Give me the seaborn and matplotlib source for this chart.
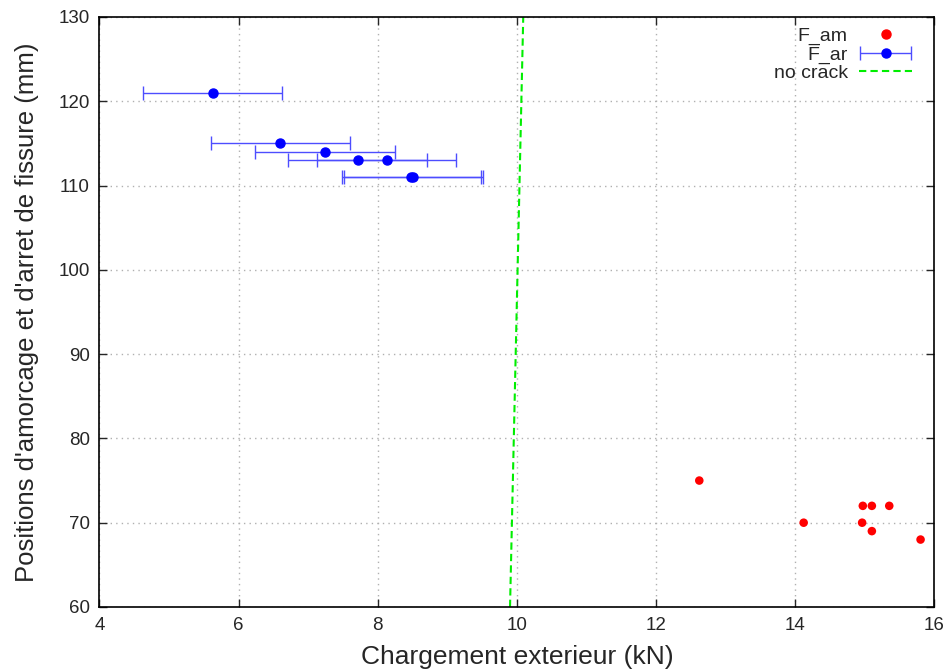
import matplotlib
matplotlib.use("Agg")
import matplotlib.pyplot as plt
import seaborn as sns
import pandas as pd
from matplotlib.lines import Line2D
from matplotlib.container import ErrorbarContainer
from matplotlib.legend_handler import HandlerErrorbar

# Data
am_x = [12.62, 14.12, 14.97, 15.10, 15.35, 14.96, 15.10, 15.80]
am_y = [75, 70, 72, 72, 72, 70, 69, 68]

ar_x = [5.63, 6.60, 7.24, 7.71, 8.13, 8.48, 8.51]
ar_y = [121, 115, 114, 113, 113, 111, 111]
ar_err = [1.0, 1.0, 1.0, 1.0, 1.0, 1.0, 1.0]

crack_x = [9.90, 10.09]
crack_y = [60, 130]

x_ticks = [4, 6, 8, 10, 12, 14, 16]
y_ticks = [60, 70, 80, 90, 100, 110, 120, 130]

sns.set_style("ticks")
plt.rcParams['font.family'] = ['Liberation Sans', 'DejaVu Sans']

fig = plt.figure(figsize=(9.52, 6.69), dpi=100)
ax = fig.add_axes([0.1045, 0.0927, 0.8771, 0.8819])

df_am = pd.DataFrame({"x": am_x, "y": am_y})
df_cr = pd.DataFrame({"x": crack_x, "y": crack_y})

sns.scatterplot(data=df_am, x="x", y="y", ax=ax, color="red", s=38,
                edgecolor="none", zorder=3, legend=False)
ax.errorbar(ar_x, ar_y, xerr=ar_err, fmt="o", color="blue", ecolor=(0.3, 0.3, 1.0),
            elinewidth=1.0, capsize=5, capthick=1.0, markersize=6.5, zorder=3)
sns.lineplot(data=df_cr, x="x", y="y", ax=ax, color="#00ee00", lw=1.5,
             linestyle=(0, (3.5, 2)), sort=False, estimator=None, zorder=2)

ax.set_xlim(4, 16)
ax.set_ylim(60, 130)
ax.set_xticks(x_ticks)
ax.set_yticks(y_ticks)
ax.tick_params(direction="in", top=True, right=True, labelsize=13.5, length=6,
               width=1, pad=7)
ax.grid(True, linestyle=(0, (1, 3)), color="#b0b0b0", lw=1)
for s in ax.spines.values():
    s.set_linewidth(1.2)
    s.set_color("black")

ax.set_xlabel("Chargement exterieur (kN)", fontsize=19, labelpad=8)
ax.set_ylabel("Positions d'amorcage et d'arret de fissure (mm)", fontsize=18.5, labelpad=14)

h_am = Line2D([], [], marker="o", color="red", linestyle="none", markersize=6.5)
h_ar = ax.containers[0]
h_cr = Line2D([], [], color="#00ee00", lw=1.5, linestyle=(0, (3.5, 2)))
leg = ax.legend([h_am, h_ar, h_cr], ["F_am", "F_ar", "no crack"], loc="upper right",
                bbox_to_anchor=(0.973, 0.983), frameon=False, markerfirst=False,
                fontsize=14, handlelength=2.7, labelspacing=0.05, borderaxespad=0,
                handletextpad=0.6, borderpad=0,
                handler_map={ErrorbarContainer: HandlerErrorbar(xerr_size=1.3)})
for t in leg.get_texts():
    t.set_ha("right")

fig.savefig("out.png", dpi=100)
